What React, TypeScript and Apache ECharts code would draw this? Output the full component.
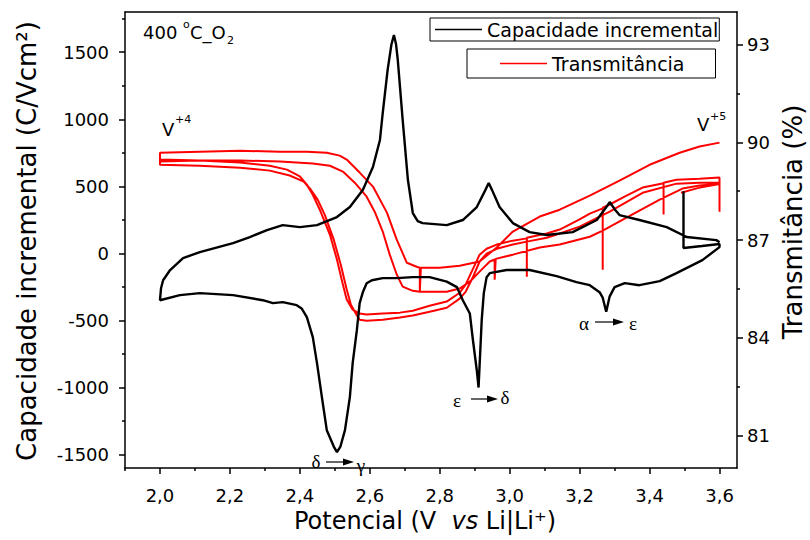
import React, { useEffect, useRef } from 'react';
import * as echarts from 'echarts';

// Axis ticks and labels
const xLabelValues = [2.0, 2.2, 2.4, 2.6, 2.8, 3.0, 3.2, 3.4, 3.6];
const xMinorTicks = [1.9, 2.1, 2.3, 2.5, 2.7, 2.9, 3.1, 3.3, 3.5];
const capLabelValues = [-1500, -1000, -500, 0, 500, 1000, 1500];
const capMinorTicks = [-1250, -750, -250, 250, 750, 1250, 1750];
const transLabelValues = [81, 84, 87, 90, 93];
const transMinorTicks = [82.5, 85.5, 88.5, 91.5];

// Incremental capacity (C/Vcm²) vs potential (V)
const capStart = [[3.497, 464], [3.497, 40], [3.55, 55], [3.6, 70]];
const capDischarge = [
  [3.6, 47], [3.551, -50], [3.477, -147], [3.429, -207], [3.371, -237], [3.329, -222],
  [3.3, -251], [3.286, -320], [3.276, -435], [3.266, -330], [3.257, -289], [3.229, -237],
  [3.191, -214], [3.134, -169], [3.057, -124], [2.991, -124], [2.943, -147], [2.934, -177],
  [2.926, -296], [2.92, -498], [2.911, -1000], [2.906, -873], [2.894, -627], [2.886, -448],
  [2.866, -349], [2.849, -251], [2.82, -210], [2.771, -177], [2.723, -177], [2.677, -184],
  [2.637, -184], [2.606, -200], [2.591, -222], [2.58, -290], [2.571, -371], [2.563, -572],
  [2.551, -818], [2.543, -1071], [2.529, -1318], [2.516, -1440], [2.506, -1482], [2.497, -1440],
  [2.477, -1318], [2.463, -1071], [2.449, -818], [2.437, -624], [2.42, -475], [2.405, -410],
  [2.391, -386], [2.351, -363], [2.323, -371], [2.294, -349], [2.209, -311], [2.114, -296],
  [2.057, -311], [2.0, -349],
];
const capCharge = [
  [2.0, -349], [2.003, -260], [2.009, -200], [2.029, -124], [2.066, -35], [2.114, 10],
  [2.209, 77], [2.257, 122], [2.306, 174], [2.351, 211], [2.4, 196], [2.449, 211],
  [2.506, 271], [2.543, 346], [2.58, 473], [2.609, 644], [2.629, 846], [2.637, 1047],
  [2.651, 1368], [2.662, 1560], [2.669, 1629], [2.675, 1560], [2.68, 1443], [2.694, 995],
  [2.709, 547], [2.723, 301], [2.737, 240], [2.751, 226], [2.82, 211], [2.866, 249],
  [2.906, 346], [2.93, 470], [2.94, 525], [2.95, 470], [2.971, 346], [3.009, 226],
  [3.057, 159], [3.106, 137], [3.18, 159], [3.249, 249], [3.275, 340], [3.286, 383],
  [3.3, 330], [3.314, 286], [3.371, 249], [3.449, 196], [3.506, 122], [3.591, 99], [3.6, 84],
];

// Transmittance (%) vs potential (V), two cycles
const transStart = [[3.49, 88.45], [3.54, 88.6], [3.6, 88.72], [3.6, 87.87], [3.6, 88.92]];
const transDischarge1 = [
  [3.6, 88.92], [3.543, 88.88], [3.477, 88.85], [3.44, 88.76], [3.44, 87.78], [3.44, 88.74],
  [3.38, 88.61], [3.334, 88.36], [3.286, 88.09], [3.266, 87.99], [3.266, 86.09], [3.266, 87.97],
  [3.229, 87.81], [3.2, 87.63], [3.143, 87.32], [3.106, 87.2], [3.049, 87.07], [3.049, 85.87],
  [3.049, 87.05], [3.009, 86.98], [2.963, 86.86], [2.934, 86.73], [2.914, 86.55], [2.894, 86.09],
  [2.874, 85.63], [2.857, 85.38], [2.82, 85.11], [2.771, 84.98], [2.723, 84.83], [2.686, 84.77],
  [2.637, 84.74], [2.591, 84.71], [2.571, 84.74], [2.551, 84.86], [2.534, 85.17], [2.523, 85.63],
  [2.506, 86.4], [2.486, 87.16], [2.457, 87.93], [2.437, 88.39], [2.42, 88.7], [2.4, 88.95],
  [2.363, 89.16], [2.314, 89.28], [2.229, 89.38], [2.114, 89.44], [2.0, 89.47],
];
const transCharge1 = [
  [2.0, 89.41], [2.114, 89.44], [2.229, 89.44], [2.343, 89.41], [2.437, 89.35], [2.486, 89.28],
  [2.523, 89.1], [2.557, 88.76], [2.591, 88.33], [2.614, 87.87], [2.637, 87.26], [2.657, 86.55],
  [2.677, 85.94], [2.694, 85.57], [2.723, 85.44], [2.743, 85.41], [2.82, 85.41], [2.857, 85.51],
  [2.886, 85.72], [2.914, 86.03], [2.943, 86.34], [2.957, 86.4], [2.957, 85.78], [2.96, 86.42],
  [3.009, 86.55], [3.086, 86.77], [3.143, 86.86], [3.229, 87.1], [3.266, 87.29], [3.334, 87.69],
  [3.429, 88.24], [3.494, 88.58], [3.543, 88.67], [3.6, 88.73],
];
const transDischarge2 = [
  [3.6, 88.76], [3.543, 88.76], [3.477, 88.73], [3.38, 88.45], [3.286, 87.87], [3.2, 87.41],
  [3.143, 87.2], [3.106, 87.07], [3.049, 86.95], [3.009, 86.86], [2.963, 86.73], [2.934, 86.58],
  [2.914, 86.34], [2.894, 85.84], [2.874, 85.41], [2.857, 85.2], [2.82, 84.92], [2.771, 84.8],
  [2.723, 84.68], [2.686, 84.62], [2.637, 84.55], [2.591, 84.52], [2.571, 84.55], [2.563, 84.68],
  [2.546, 85.01], [2.534, 85.48], [2.517, 86.24], [2.497, 87.01], [2.471, 87.78], [2.451, 88.24],
  [2.431, 88.55], [2.411, 88.79], [2.371, 88.98], [2.314, 89.13], [2.229, 89.22], [2.114, 89.28],
  [2.0, 89.31],
];
const transCharge2 = [
  [2.0, 89.68], [2.114, 89.71], [2.229, 89.74], [2.343, 89.71], [2.42, 89.71], [2.477, 89.68],
  [2.514, 89.59], [2.534, 89.47], [2.571, 89.07], [2.609, 88.64], [2.649, 87.84], [2.677, 87.01],
  [2.706, 86.3], [2.734, 86.18], [2.743, 86.15], [2.743, 85.41], [2.746, 86.15], [2.8, 86.15],
  [2.857, 86.21], [2.914, 86.34], [2.963, 86.77], [3.009, 87.26], [3.086, 87.72], [3.143, 87.93],
  [3.229, 88.36], [3.314, 88.82], [3.4, 89.31], [3.486, 89.68], [3.543, 89.87], [3.6, 89.99],
];

const SANS = 'DejaVu Sans';
const SERIF = 'Liberation Serif';

function txt(text: string, x: number, y: number, size: number, family = SANS, align = 'left') {
  return {
    type: 'text',
    x,
    y,
    style: { text, fontSize: size, fontFamily: family, fill: '#000', align, verticalAlign: 'middle' },
  };
}

function arrow(x1: number, x2: number, y: number) {
  return [
    { type: 'line', shape: { x1, y1: y, x2: x2 - 8, y2: y }, style: { stroke: '#000', lineWidth: 1.2 } },
    {
      type: 'polygon',
      shape: { points: [[x2 - 11, y - 3.5], [x2, y], [x2 - 11, y + 3.5]] },
      style: { fill: '#000' },
    },
  ];
}

const frameLine = { color: '#000', width: 1.5 };

export default function App() {
  const ref = useRef<HTMLDivElement>(null);

  useEffect(() => {
    if (!ref.current) return;
    const chart = echarts.init(ref.current, undefined, { renderer: 'svg' });

    const option = {
      animation: false,
      backgroundColor: '#fff',
      grid: { left: 125, top: 12, width: 612, height: 456 },
      xAxis: [
        {
          type: 'value', min: 1.9, max: 3.65, position: 'bottom',
          axisLine: { show: true, onZero: false, lineStyle: frameLine },
          axisTick: { show: true, length: 6, customValues: xLabelValues, lineStyle: frameLine },
          axisLabel: {
            customValues: xLabelValues,
            formatter: (v: number) => v.toFixed(1).replace('.', ','),
            color: '#000', fontSize: 18, fontFamily: SANS, margin: 18,
          },
          splitLine: { show: false },
        },
        {
          type: 'value', min: 1.9, max: 3.65, position: 'bottom',
          axisLine: { show: false, onZero: false },
          axisTick: { show: true, length: 3, customValues: xMinorTicks, lineStyle: frameLine },
          axisLabel: { show: false },
          splitLine: { show: false },
        },
        {
          type: 'value', min: 1.9, max: 3.65, position: 'top',
          axisLine: { show: true, onZero: false, lineStyle: frameLine },
          axisTick: { show: false },
          axisLabel: { show: false },
          splitLine: { show: false },
        },
      ],
      yAxis: [
        {
          type: 'value', min: -1600, max: 1800, position: 'left',
          axisLine: { show: true, onZero: false, lineStyle: frameLine },
          axisTick: { show: true, length: 6, customValues: capLabelValues, lineStyle: frameLine },
          axisLabel: {
            customValues: capLabelValues,
            formatter: (v: number) => String(v),
            color: '#000', fontSize: 18, fontFamily: SANS, margin: 16,
          },
          splitLine: { show: false },
        },
        {
          type: 'value', min: 80, max: 94, position: 'right',
          axisLine: { show: true, onZero: false, lineStyle: frameLine },
          axisTick: { show: true, length: 6, customValues: transLabelValues, lineStyle: frameLine },
          axisLabel: {
            customValues: transLabelValues,
            formatter: (v: number) => String(v),
            color: '#000', fontSize: 18, fontFamily: SANS, margin: 10,
          },
          splitLine: { show: false },
        },
        {
          type: 'value', min: -1600, max: 1800, position: 'left',
          axisLine: { show: false, onZero: false },
          axisTick: { show: true, length: 3, customValues: capMinorTicks, lineStyle: frameLine },
          axisLabel: { show: false },
          splitLine: { show: false },
        },
        {
          type: 'value', min: 80, max: 94, position: 'right',
          axisLine: { show: false, onZero: false },
          axisTick: { show: true, length: 3, customValues: transMinorTicks, lineStyle: frameLine },
          axisLabel: { show: false },
          splitLine: { show: false },
        },
      ],
      legend: [
        {
          data: ['Capacidade incremental'],
          left: 430, top: 18,
          padding: [2, 1, 2, 5],
          icon: 'rect',
          itemWidth: 47, itemHeight: 1.3,
          borderColor: '#000', borderWidth: 1,
          selectedMode: false,
          textStyle: { color: '#000', fontSize: 19, fontFamily: SANS },
        },
        {
          data: ['Transmitância'],
          left: 467, top: 49,
          padding: [5, 31, 5, 33],
          icon: 'rect',
          itemWidth: 47, itemHeight: 1.3,
          borderColor: '#000', borderWidth: 1,
          selectedMode: false,
          textStyle: { color: '#000', fontSize: 19, fontFamily: SANS },
        },
      ],
      series: [
        {
          name: 'Transmitância', type: 'line', xAxisIndex: 0, yAxisIndex: 1,
          symbol: 'none', z: 2,
          lineStyle: { color: '#ff0000', width: 2 },
          itemStyle: { color: '#ff0000' },
          data: [...transStart, ...transDischarge1, ...transCharge1, ...transDischarge2, ...transCharge2],
        },
        {
          name: 'Capacidade incremental', type: 'line', xAxisIndex: 0, yAxisIndex: 0,
          symbol: 'none', z: 3,
          lineStyle: { color: '#000000', width: 2.4 },
          itemStyle: { color: '#000000' },
          data: [...capStart, ...capDischarge, ...capCharge],
        },
      ],
      graphic: [
        // axis titles
        {
          type: 'text', x: 27, y: 241, rotation: Math.PI / 2,
          style: {
            text: 'Capacidade incremental (C/Vcm²)', fontSize: 26, fontFamily: SANS,
            fill: '#000', align: 'center', verticalAlign: 'middle',
          },
        },
        {
          type: 'text', x: 793, y: 222, rotation: Math.PI / 2,
          style: {
            text: 'Transmitância (%)', fontSize: 26, fontFamily: SANS,
            fill: '#000', align: 'center', verticalAlign: 'middle',
          },
        },
        {
          type: 'text', x: 425, y: 521,
          style: {
            text: 'Potencial (V  {i|vs} Li|Li⁺)', fontSize: 24, fontFamily: SANS,
            fill: '#000', align: 'center', verticalAlign: 'middle',
            rich: { i: { fontStyle: 'italic', fontSize: 24, fontFamily: SANS, fill: '#000' } },
          },
        },
        // sample label
        txt('400', 143, 32, 18),
        txt('o', 183, 24, 11),
        txt('C_O', 190, 32, 18),
        txt('2', 227, 40, 11),
        // oxidation states
        txt('V', 162, 129, 18),
        txt('+4', 175, 119, 11),
        txt('V', 697, 124, 18),
        txt('+5', 710, 116, 11),
        // phase transitions
        txt('δ', 316, 461, 19, SERIF, 'center'),
        ...arrow(326, 354, 462),
        txt('γ', 361, 465, 19, SERIF, 'center'),
        txt('ε', 457, 400, 19, SERIF, 'center'),
        ...arrow(471, 498, 399),
        txt('δ', 505, 397, 19, SERIF, 'center'),
        txt('α', 584, 323, 19, SERIF, 'center'),
        ...arrow(595, 624, 322),
        txt('ε', 633, 323, 19, SERIF, 'center'),
      ],
    };

    chart.setOption(option as any);
    return () => chart.dispose();
  }, []);

  return (
    <div
      ref={ref}
      style={{ position: 'fixed', left: 0, top: 0, width: 810, height: 540, background: '#fff' }}
    />
  );
}
